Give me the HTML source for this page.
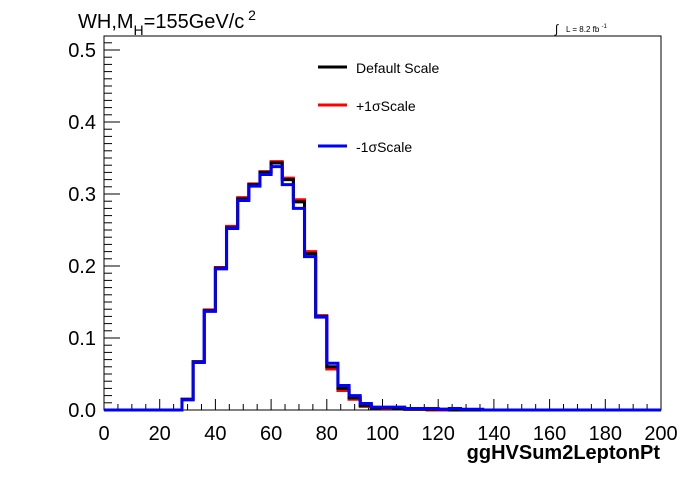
<!DOCTYPE html>
<html><head><meta charset="utf-8"><style>
body{margin:0;background:#fff;font-family:"Liberation Sans",sans-serif}
svg text{font-family:"Liberation Sans",sans-serif}
</style></head><body>
<svg width="696" height="472" xmlns="http://www.w3.org/2000/svg">
<rect x="0" y="0" width="696" height="472" fill="#fff"/>
<rect x="104" y="36" width="557" height="374" fill="none" stroke="#000" stroke-width="1"/>
<g id="axes"></g>
<g id="series"></g>
<text x="78" y="28" font-size="20">WH,M<tspan font-size="14" dy="7">H</tspan><tspan dy="-7">=155GeV/c</tspan><tspan font-size="14" dy="-8"> 2</tspan></text>
<text x="555" y="33" font-size="12">∫</text>
<text x="566" y="32" font-size="8">L = 8.2 fb <tspan font-size="6" dy="-4">-1</tspan></text>
<text x="660" y="459" font-size="20" font-weight="bold" text-anchor="end">ggHVSum2LeptonPt</text>
<g>
<line x1="318" y1="67" x2="347" y2="67" stroke="#000" stroke-width="3"/>
<text x="356" y="73" font-size="14">Default Scale</text>
<line x1="318" y1="105" x2="347" y2="105" stroke="#f00" stroke-width="3"/>
<text x="356" y="111" font-size="14">+1σScale</text>
<line x1="318" y1="146" x2="347" y2="146" stroke="#00f" stroke-width="3"/>
<text x="356" y="152" font-size="14">-1σScale</text>
</g>
</svg>
<script>
const binWidth = 4;
const xTicks = [0,20,40,60,80,100,120,140,160,180,200];
const yTicks = [0,0.1,0.2,0.3,0.4,0.5];
const yTickLabels = ["0.0","0.1","0.2","0.3","0.4","0.5"];
const defaultScale = [0,0,0,0,0,0,0,0.015,0.067,0.138,0.197,0.253,0.293,0.313,0.330,0.343,0.320,0.289,0.217,0.130,0.060,0.030,0.017,0.006,0.003,0.003,0.002,0.001,0.001,0.001,0.001,0,0,0,0,0,0,0,0,0,0,0,0,0,0,0,0,0,0,0];
const plusScale = [0,0,0,0,0,0,0,0.015,0.067,0.139,0.198,0.255,0.295,0.314,0.331,0.345,0.322,0.292,0.220,0.131,0.057,0.027,0.015,0.005,0.003,0.002,0.002,0.001,0.001,0,0,0,0,0,0,0,0,0,0,0,0,0,0,0,0,0,0,0,0,0];
const minusScale = [0,0,0,0,0,0,0,0.014,0.066,0.137,0.196,0.252,0.291,0.311,0.327,0.338,0.313,0.280,0.213,0.129,0.065,0.034,0.020,0.009,0.004,0.004,0.004,0.002,0.002,0.002,0.001,0.002,0.001,0.001,0,0,0,0,0,0,0,0,0,0,0,0,0,0,0,0];
const X0=104,X1=661,Y0=410,Y1=50;
const sx=v=>X0+(v-0)/(200-0)*(X1-X0);
const sy=v=>Y0-(v/0.5)*(Y0-Y1);
const NS="http://www.w3.org/2000/svg";
const axes=document.getElementById('axes');
function mk(tag,attrs,parent){const e=document.createElementNS(NS,tag);for(const k in attrs)e.setAttribute(k,attrs[k]);parent.appendChild(e);return e;}
// x ticks
for(let v=0;v<=200;v+=5){
  const major=v%20===0;
  const l=mk('line',{x1:sx(v),x2:sx(v),y1:Y0,y2:Y0-(major?11:6),stroke:'#000'},axes);
  
  
}
xTicks.forEach(v=>{
  const t=mk('text',{x:sx(v),y:440,'font-size':20,'text-anchor':'middle'},axes);
  t.textContent=v;
  
  
});
for(let i=0;i<=52;i++){
  const v=i*0.01;const major=i%10===0;
  if(sy(v)<36)continue;
  const l=mk('line',{x1:X0,x2:X0+(major?16:8),y1:sy(v),y2:sy(v),stroke:'#000'},axes);
  
  
}
yTicks.forEach((v,i)=>{
  const t=mk('text',{x:96,y:sy(v)+7,'font-size':20,'text-anchor':'end'},axes);
  t.textContent=yTickLabels[i];
  
  
});
const ser=document.getElementById('series');
function hist(vals,color,name){
  let d='M'+sx(0)+','+sy(vals[0]);
  vals.forEach((v,i)=>{d+=' L'+sx(i*binWidth)+','+sy(v)+' L'+sx((i+1)*binWidth)+','+sy(v);});
  const p=mk('path',{d:d,fill:'none',stroke:color,'stroke-width':3},ser);
  
  
}
hist(plusScale,'#f00','series-plus-1sigma');
hist(defaultScale,'#000','series-default-scale');
hist(minusScale,'#00f','series-minus-1sigma');
</script>
</body></html>
